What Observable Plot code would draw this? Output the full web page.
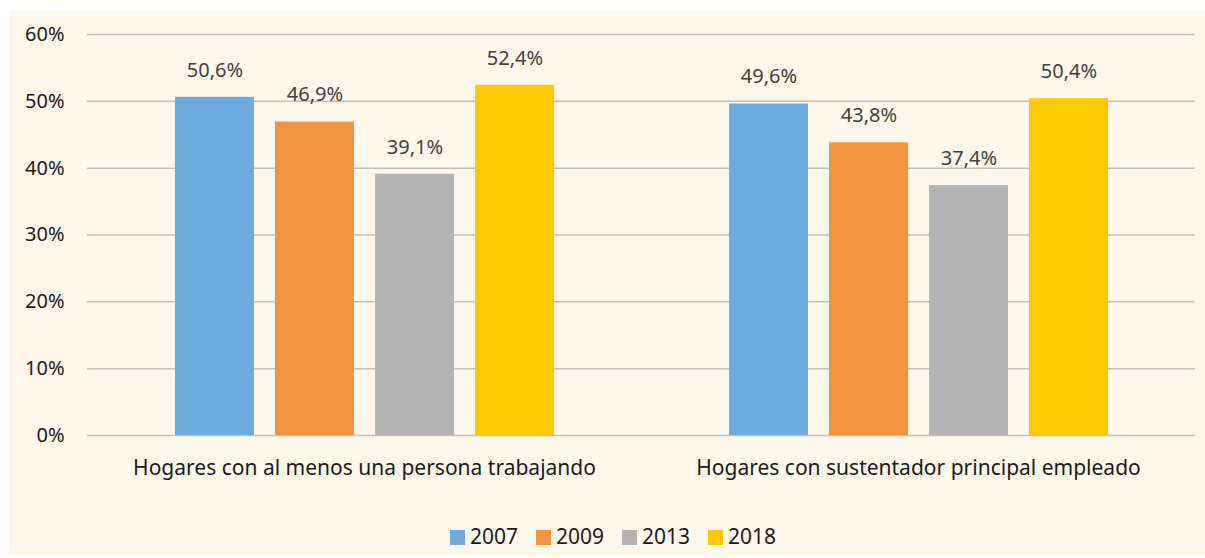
<!DOCTYPE html>
<html><head><meta charset="utf-8">
<script src="https://cdn.jsdelivr.net/npm/d3@7"></script>
<script src="https://cdn.jsdelivr.net/npm/@observablehq/plot@0.6"></script>
<style>
body{margin:0;background:#fff;font-family:"Noto Sans",sans-serif;}
#box{position:absolute;left:9px;top:11px;width:1196px;height:544px;background:#fef8ec;}
#legend{position:absolute;left:6px;width:100%;top:512px;text-align:center;font-size:21px;color:#1a1a1a;line-height:26px;}
#legend span.item{display:inline-block;margin:0 9px;}
#legend span.sw{display:inline-block;width:15px;height:15px;margin-right:5px;vertical-align:-1px;}
</style></head>
<body><div id="box"><div id="chart"></div><div id="legend"></div></div>
<script>
const groups = ["Hogares con al menos una persona trabajando","Hogares con sustentador principal empleado"];
const years = ["2007","2009","2013","2018"];
const colors = ["#6cabdd","#f29440","#b4b4b4","#ffc800"];
const values2007 = [50.6, 49.6];
const values2009 = [46.9, 43.8];
const values2013 = [39.1, 37.4];
const values2018 = [52.4, 50.4];
const yTicks = [0,10,20,30,40,50,60];

const series = [values2007, values2009, values2013, values2018];
const data = [];
groups.forEach((g,gi)=>years.forEach((y,yi)=>data.push({group:g, year:y, value:series[yi][gi]})));
const fmt = v => v.toFixed(1).replace(".", ",") + "%";

const chart = Plot.plot({
  width:1196, height:474,
  marginLeft:78, marginRight:10, marginTop:23, marginBottom:50,
  style:{background:"transparent", fontFamily:"Noto Sans, sans-serif", fontSize:"20px", color:"#1a1a1a"},
  fx:{domain:groups, padding:0, label:null},
  x:{domain:years, paddingInner:0.214, paddingOuter:0.863, axis:null},
  y:{domain:[0,60], label:null},
  color:{domain:years, range:colors},
  marks:[
    Plot.ruleY(yTicks, {stroke:"#c2c0bb", strokeWidth:1.5}),
    Plot.axisFx({anchor:"bottom", tickSize:0, tickPadding:25, fontSize:21, fill:"#1a1a1a", label:null}),
    Plot.axisY({ticks:yTicks, anchor:"left", facetAnchor:"left", tickSize:0, tickPadding:23, fontSize:20, fill:"#1a1a1a", tickFormat:d=>d+"%", label:null}),
    Plot.barY(data, {fx:"group", x:"year", y:"value", fill:"year"}),
    Plot.text(data, {fx:"group", x:"year", y:"value", text:d=>fmt(d.value), dy:-27, fill:"#404040", fontSize:20}),
  ]
});
document.getElementById("chart").appendChild(chart);

const lg = document.getElementById("legend");
years.forEach((y,i)=>{
  const s=document.createElement("span"); s.className="item";
  s.innerHTML=`<span class="sw" style="background:${colors[i]}"></span>${y}`;
  lg.appendChild(s);
});
</script></body></html>
